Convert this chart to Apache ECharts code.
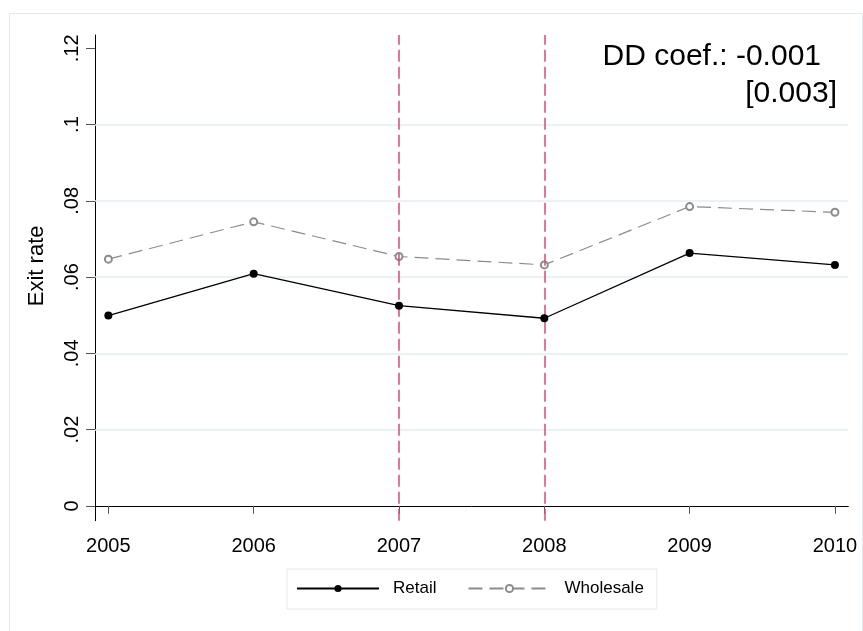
<!DOCTYPE html>
<html>
<head>
<meta charset="utf-8">
<script src="https://cdn.jsdelivr.net/npm/echarts@6/dist/echarts.min.js"></script>
<style>
html,body{margin:0;padding:0;background:#fff;}
#chart{width:863px;height:631px;}
</style>
</head>
<body>
<div id="chart"></div>
<script>
// ---- data ----
const years = [2005, 2006, 2007, 2008, 2009, 2010];
const retail = [0.0499, 0.0609, 0.0525, 0.0492, 0.0663, 0.0632];
const wholesale = [0.0647, 0.0745, 0.0654, 0.0632, 0.0785, 0.0770];
const yTicks = [0, 0.02, 0.04, 0.06, 0.08, 0.1, 0.12];
const yTickLabels = ['0', '.02', '.04', '.06', '.08', '.1', '.12'];
const yGridValues = [0.02, 0.04, 0.06, 0.08, 0.1];
const eventYears = [2007, 2008];
const seriesNames = ['Retail', 'Wholesale'];
const yTitle = 'Exit rate';
const ddLine1 = 'DD coef.: -0.001';
const ddLine2 = '[0.003]';

const FONT = 'Liberation Sans, Arial, Helvetica, sans-serif';
const chart = echarts.init(document.getElementById('chart'), null, {renderer: 'canvas'});

const option = {
  backgroundColor: '#ffffff',
  animation: false,
  textStyle: {fontFamily: FONT},
  grid: {left: 95, right: 14.7, top: 35, bottom: 110.3, containLabel: false},
  xAxis: {
    type: 'value',
    min: 2004.908,
    max: 2010.092,
    axisLine: {show: true, lineStyle: {color: '#000', width: 1}},
    axisTick: {show: true, customValues: years, length: 8, lineStyle: {color: '#555', width: 1}},
    axisLabel: {customValues: years, fontSize: 20, color: '#000', margin: 16, fontFamily: FONT,
      formatter: v => String(Math.round(v))},
    splitLine: {show: false}
  },
  yAxis: {
    type: 'value',
    min: -0.0039,
    max: 0.1235,
    name: yTitle,
    nameLocation: 'middle',
    nameGap: 47,
    nameTextStyle: {fontSize: 22, color: '#000', fontFamily: FONT, padding: [0, 0, 0, 24]},
    axisLine: {show: true, lineStyle: {color: '#000', width: 1}},
    axisTick: {show: true, customValues: yTicks, length: 9, lineStyle: {color: '#555', width: 1}},
    axisLabel: {customValues: yTicks, rotate: 90, fontSize: 20, color: '#000', margin: 13, fontFamily: FONT,
      formatter: v => {
        const i = yTicks.findIndex(t => Math.abs(t - v) < 1e-9);
        return i >= 0 ? yTickLabels[i] : '';
      }},
    splitLine: {show: false}
  },
  legend: {
    data: seriesNames,
    left: 287,
    top: 569,
    orient: 'horizontal',
    itemWidth: 82,
    itemHeight: 9,
    itemGap: 31,
    padding: [11, 13, 12, 9],
    borderColor: '#e3eaef',
    borderWidth: 1,
    textStyle: {fontSize: 17, color: '#000', fontFamily: FONT, padding: [0, 0, 0, 9]}
  },
  graphic: [
    {type: 'rect', z: -10, silent: true, shape: {x: 9.5, y: 13.5, width: 853, height: 640},
      style: {fill: 'none', stroke: '#e3eaef', lineWidth: 1}},
    {type: 'text', right: 42, top: 42, z: 100,
      style: {text: ddLine1, font: '30px ' + FONT, fill: '#000'}},
    {type: 'text', right: 26, top: 79, z: 100,
      style: {text: ddLine2, font: '30px ' + FONT, fill: '#000'}}
  ],
  series: [
    {
      name: '__grid',
      type: 'line',
      data: [],
      z: 1,
      silent: true,
      markLine: {
        silent: true,
        symbol: ['none', 'none'],
        label: {show: false},
        lineStyle: {color: '#e4ecf2', width: 1.5, type: 'solid'},
        data: yGridValues.map(v => ({yAxis: v}))
      }
    },
    {
      name: '__events',
      type: 'line',
      data: [],
      z: 3,
      silent: true,
      markLine: {
        silent: true,
        symbol: ['none', 'none'],
        label: {show: false},
        lineStyle: {color: '#d9487a', width: 1.5, type: [12, 5]},
        data: eventYears.map(v => ({xAxis: v}))
      }
    },
    {
      name: seriesNames[0],
      type: 'line',
      z: 5,
      data: years.map((y, i) => [y, retail[i]]),
      symbol: 'circle',
      symbolSize: 8,
      itemStyle: {color: '#000'},
      lineStyle: {color: '#000', width: 1.3, type: 'solid'}
    },
    {
      name: seriesNames[1],
      type: 'line',
      z: 4,
      data: years.map((y, i) => [y, wholesale[i]]),
      symbol: 'emptyCircle',
      symbolSize: 7,
      itemStyle: {color: '#8c8c8c', borderColor: '#8c8c8c', borderWidth: 1.6},
      lineStyle: {color: '#8c8c8c', width: 1.2, type: [14, 7]}
    }
  ]
};
chart.setOption(option);
</script>
</body>
</html>
